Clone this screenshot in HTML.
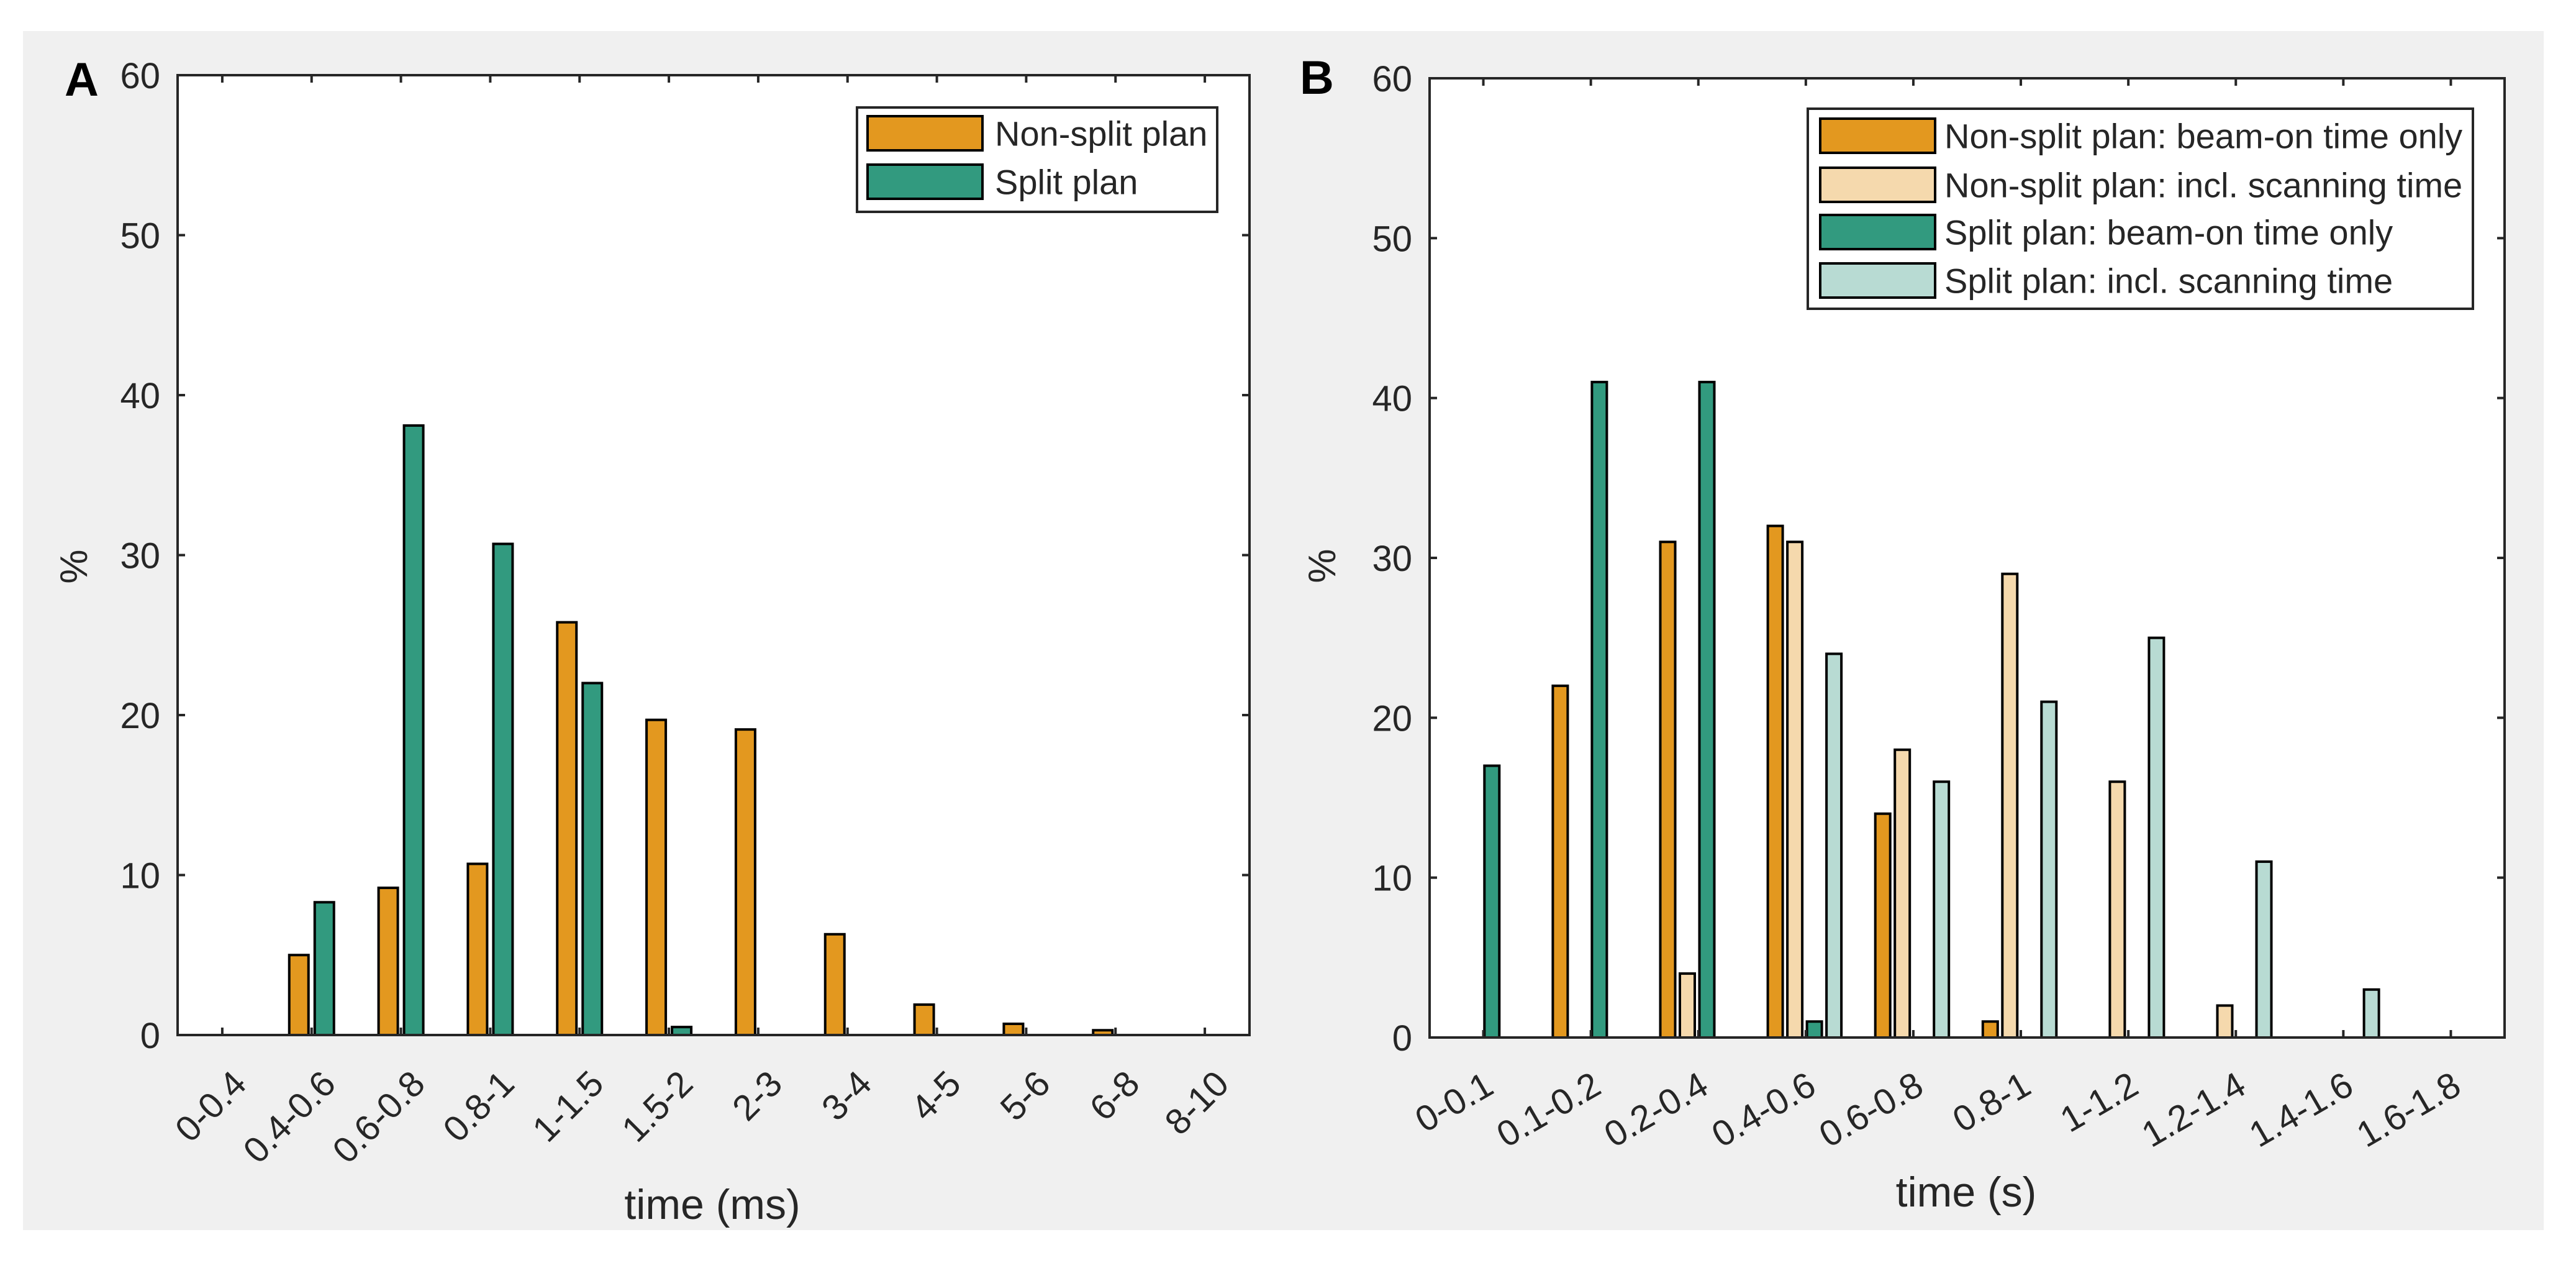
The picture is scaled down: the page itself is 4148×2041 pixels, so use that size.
<!DOCTYPE html>
<html><head><meta charset="utf-8"><style>
html,body{margin:0;padding:0;background:#fff;}
svg{display:block;}
text{font-family:"Liberation Sans",Arial,sans-serif;fill:#262626;}
</style></head>
<body>
<svg id="fig" width="4148" height="2041" viewBox="0 0 4148 2041" xmlns="http://www.w3.org/2000/svg">
<rect x="37" y="50" width="4059" height="1930" fill="#f0f0f0"/>
<g id="panelA"></g>
<g id="panelB"></g>
</svg>
<script>
// ---- Panel A data ----
const catsA = ["0-0.4","0.4-0.6","0.6-0.8","0.8-1","1-1.5","1.5-2","2-3","3-4","4-5","5-6","6-8","8-10"];
const nonSplitA = [0,5.0,9.2,10.7,25.8,19.7,19.1,6.3,1.9,0.7,0.3,0];
const splitA = [0,8.3,38.1,30.7,22.0,0.5,0,0,0,0,0,0];
const yTicks = [0,10,20,30,40,50,60];
// ---- Panel B data ----
const catsB = ["0-0.1","0.1-0.2","0.2-0.4","0.4-0.6","0.6-0.8","0.8-1","1-1.2","1.2-1.4","1.4-1.6","1.6-1.8"];
const nonSplitBeamB = [0,22,31,32,14,1,0,0,0,0];
const nonSplitScanB = [0,0,4,31,18,29,16,2,0,0];
const splitBeamB = [17,41,41,1,0,0,0,0,0,0];
const splitScanB = [0,0,0,24,16,21,25,11,3,0];

const NS="http://www.w3.org/2000/svg";
const ORANGE="#e3981f", TEAL="#329a7f", LORANGE="#f5d9ad", LTEAL="#b8dbd3";
function mk(tag, attrs, parent){const e=document.createElementNS(NS,tag);for(const k in attrs)e.setAttribute(k,attrs[k]);parent.appendChild(e);return e;}

function panel(g, cfg){
  const {L,R,T,B,cats,series,colors,names,slot,shift,barW,rot,lblDx,lblDy,letter,letterX,letterY,ylX,ylY,xlabel,xlX,xlY,legend}=cfg;
  const n=cats.length, unit=(R-L)/n;
  const xS=i=>L+(i+0.5)*unit;
  const yS=v=>B-(v/60)*(B-T);
  const bg=mk('rect',{x:L,y:T,width:R-L,height:B-T,fill:'#fff'},g);
  
  
  // bars
  const ns=series.length;
  series.forEach((vals,s)=>{
    const sg=mk('g',{},g);
    
    
    vals.forEach((v,i)=>{
      const cx=xS(i)+shift+(s-(ns-1)/2)*slot;
      const y=yS(v);
      const r=mk('rect',{x:cx-barW/2,y:y,width:barW,height:Math.max(0,B-y),fill:colors[s],stroke:'#000','stroke-width':4},sg);
      
      
    });
  });
  // ticks
  const tg=mk('g',{stroke:'#262626','stroke-width':4},g);
  
  
  cats.forEach((c,i)=>{const x=xS(i);
    mk('line',{x1:x,y1:B,x2:x,y2:B-12},tg);mk('line',{x1:x,y1:T,x2:x,y2:T+12},tg);});
  yTicks.forEach(v=>{const y=yS(v);
    mk('line',{x1:L,y1:y,x2:L+12,y2:y},tg);mk('line',{x1:R,y1:y,x2:R-12,y2:y},tg);});
  const box=mk('rect',{x:L,y:T,width:R-L,height:B-T,fill:'none',stroke:'#262626','stroke-width':4},g);
  
  
  // y tick labels
  yTicks.forEach(v=>{
    const t=mk('text',{x:L-28,y:yS(v)+21,'text-anchor':'end','font-size':58},g);
    t.textContent=v;
    
    
  });
  // x tick labels
  cats.forEach((c,i)=>{
    const ax=xS(i)+lblDx, ay=B+lblDy;
    const t=mk('text',{x:ax,y:ay,'text-anchor':'end','font-size':58,transform:`rotate(${-rot} ${ax} ${ay})`},g);
    t.textContent=c;
    
    
  });
  const yl=mk('text',{x:ylX,y:ylY,'text-anchor':'middle','font-size':62,transform:`rotate(-90 ${ylX} ${ylY})`},g);
  yl.textContent='%';
  
  
  const xl=mk('text',{x:xlX,y:xlY,'text-anchor':'middle','font-size':68},g);
  xl.textContent=xlabel;
  
  
  const pl=mk('text',{x:letterX,y:letterY,'font-size':76,'font-weight':'bold',style:'fill:#000'},g);
  pl.textContent=letter;
  
  
  // legend
  const lg=mk('g',{},g);
  
  
  const lb=mk('rect',{x:legend.x,y:legend.y,width:legend.w,height:legend.h,fill:'#fff',stroke:'#262626','stroke-width':4},lg);
  
  
  legend.labels.forEach((lab,k)=>{
    const ry=legend.rowY[k];
    const sw=mk('rect',{x:legend.sx,y:ry,width:legend.sw,height:legend.sh,fill:colors[k],stroke:'#000','stroke-width':4},lg);
    
    
    const t=mk('text',{x:legend.tx,y:ry+legend.sh/2+20,'font-size':56},lg);
    t.textContent=lab;
    
    
  });
}

panel(document.getElementById('panelA'),{
  L:286,R:2012,T:121,B:1666,cats:catsA,series:[nonSplitA,splitA],colors:[ORANGE,TEAL],
  names:['non-split','split'],slot:41,shift:0,barW:31,rot:45,lblDx:42,lblDy:82,
  letter:'A',letterX:104,letterY:154,ylX:140,ylY:912,xlabel:'time (ms)',xlX:1147,xlY:1962,
  legend:{x:1380,y:173,w:580,h:168,sx:1397,sw:185,sh:55,rowY:[187,265],tx:1602,labels:['Non-split plan','Split plan']}
});
panel(document.getElementById('panelB'),{
  L:2302,R:4033,T:126,B:1670,cats:catsB,series:[nonSplitBeamB,nonSplitScanB,splitBeamB,splitScanB],
  colors:[ORANGE,LORANGE,TEAL,LTEAL],names:['non-split-beam','non-split-scan','split-beam','split-scan'],
  slot:31.5,shift:-2,barW:24,rot:30,lblDx:20,lblDy:88,
  letter:'B',letterX:2093,letterY:151,ylX:2150,ylY:911,xlabel:'time (s)',xlX:3166,xlY:1942,
  legend:{x:2911,y:175,w:1071,h:322,sx:2931,sw:185,sh:55,rowY:[191,270,346,424],tx:3131,
    labels:['Non-split plan: beam-on time only','Non-split plan: incl. scanning time','Split plan: beam-on time only','Split plan: incl. scanning time']}
});
</script>
</body></html>
